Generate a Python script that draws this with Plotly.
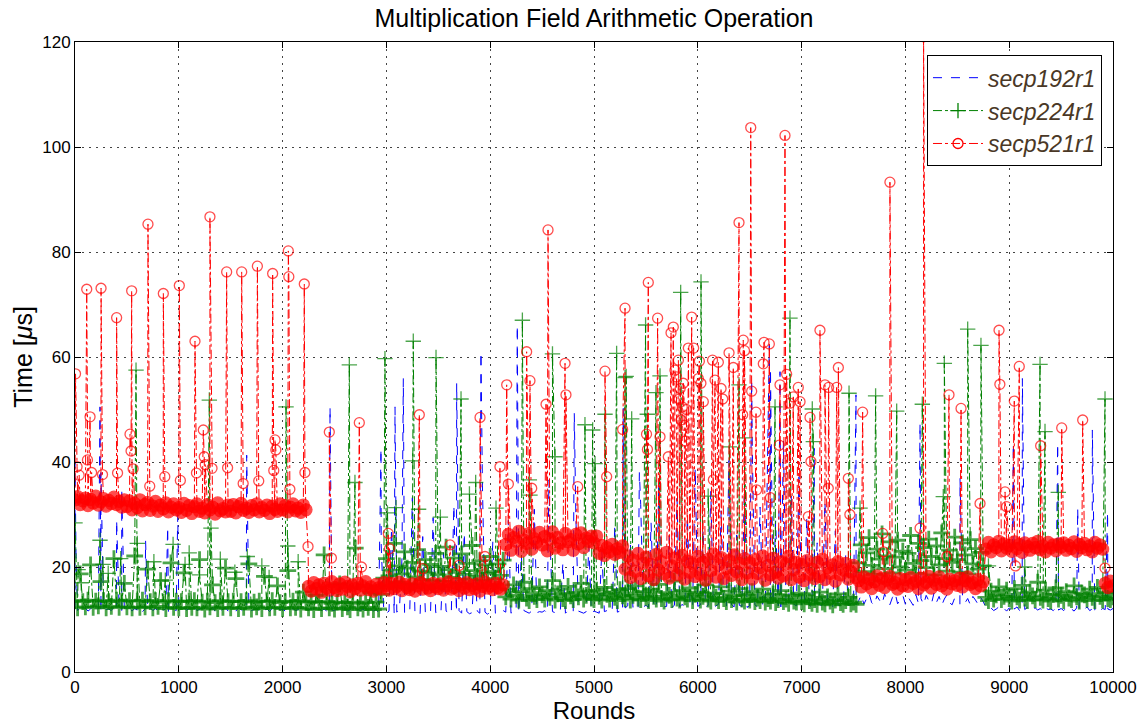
import plotly.graph_objects as go

# Rounds are sampled every 25 iterations for the steady-state band;
# isolated outliers are listed separately at their own round index.
ROUND_STEP = 25
rounds = list(range(0, 10001, ROUND_STEP))

# secp192r1 timings (us), one value per sampled round (20 per row = 500 rounds)
secp192_base = [
    12.1, 11.7, 12.4, 11.9, 12.2, 11.6, 12.0, 12.5, 11.8, 12.1, 11.5, 12.3, 11.9, 12.0, 11.7, 12.4, 11.8, 12.2, 11.6, 12.0,
    11.9, 12.3, 11.6, 12.1, 11.8, 12.4, 11.5, 12.0, 11.9, 12.2, 11.7, 12.1, 11.6, 12.3, 11.8, 12.0, 11.5, 12.2, 11.9, 11.7,
    12.0, 11.6, 12.2, 11.8, 12.1, 11.5, 12.3, 11.7, 11.9, 12.2, 11.6, 12.0, 11.8, 12.3, 11.5, 12.1, 11.7, 11.9, 12.2, 11.6,
    11.8, 12.1, 11.6, 12.2, 11.9, 11.5, 12.0, 12.3, 11.7, 11.9, 12.1, 11.6, 12.2, 11.8, 12.0, 11.5, 12.1, 11.7, 12.3, 11.8,
    12.0, 11.6, 12.2, 11.8, 12.1, 11.7, 11.9, 12.3, 11.6, 12.0, 11.8, 12.1, 11.5, 11.9, 12.2, 11.7, 12.0, 11.6, 12.1, 11.8,
    11.7, 12.0, 11.5, 11.9, 12.1, 11.6, 11.8, 12.2, 11.5, 11.9, 11.7, 12.0, 11.4, 11.8, 12.1, 11.6, 11.9, 11.3, 24.0, 11.5,
    11.2, 11.6, 27.5, 11.1, 11.4, 11.8, 21.6, 11.3, 11.0, 11.5, 33.2, 11.2, 11.6, 11.1, 25.8, 11.4, 11.7, 11.2, 29.4, 11.3,
    11.5, 11.1, 22.7, 11.6, 11.3, 11.0, 31.8, 11.4, 11.7, 11.2, 26.5, 11.5, 11.1, 11.3, 20.9, 11.6, 11.2, 35.6, 11.4, 11.0,
    11.5, 24.8, 11.2, 11.6, 11.3, 11.7, 11.4, 28.9, 11.2, 11.6, 11.5, 11.3, 22.4, 11.7, 11.4, 11.2, 11.6, 31.0, 11.3, 11.5,
    11.4, 11.7, 11.2, 26.3, 11.5, 11.3, 11.6, 11.4, 20.8, 11.2, 11.7, 11.5, 11.3, 29.7, 11.6, 11.4, 11.2, 11.5, 24.1, 11.3,
    11.6, 11.4, 11.2, 23.3, 11.5, 11.7, 11.3, 11.5, 27.8, 11.4, 11.6, 11.3, 12.2, 12.6, 24.7, 12.3, 12.8, 12.1, 31.9, 12.4,
    12.7, 12.3, 28.4, 12.6, 12.2, 36.5, 12.8, 12.4, 12.5, 25.9, 12.3, 12.7, 33.1, 12.4, 12.9, 12.2, 29.6, 12.6, 12.3, 38.8,
    12.5, 12.8, 27.2, 12.4, 12.7, 34.4, 12.3, 12.6, 12.9, 30.7, 12.5, 12.2, 40.3, 12.8, 12.4, 26.1, 12.7, 12.5, 35.9, 12.3,
    12.6, 42.5, 12.8, 12.4, 31.4, 12.9, 12.5, 46.2, 12.7, 13.0, 28.8, 12.6, 12.4, 44.0, 12.8, 12.5, 33.7, 12.9, 12.6, 37.2,
    12.8, 12.5, 29.3, 12.7, 12.4, 12.9, 24.6, 12.6, 12.8, 32.5, 12.5, 12.7, 12.4, 26.9, 12.8, 12.6, 12.5, 22.3, 12.7, 12.9,
    12.6, 12.8, 13.6, 14.7, 12.9, 14.1, 15.0, 13.2, 12.7, 14.5, 13.8, 12.9, 14.9, 13.4, 12.8, 14.2, 15.1, 13.0, 13.7, 14.6,
    12.9, 14.3, 13.5, 12.7, 14.8, 13.1, 14.0, 12.8, 14.6, 13.6, 12.9, 15.0, 13.3, 14.4, 12.7, 13.9, 14.7, 13.2, 12.8, 14.1,
    13.5, 12.9, 14.6, 13.2, 14.0, 12.8, 14.4, 13.7, 12.9, 14.2, 13.4, 12.3, 11.9, 12.2, 11.7, 12.0, 12.4, 11.8, 12.1, 11.6,
    12.2, 11.8, 12.0, 12.4, 11.7, 12.1, 11.9, 12.3, 11.6, 12.0, 12.2, 11.8, 12.1, 11.5, 12.3, 11.9, 12.0, 11.7, 12.2, 11.8,
    12.1, 11.7, 12.3, 11.9, 12.0, 11.6, 12.2, 11.8, 12.1, 11.9, 12.4, 11.7, 12.0, 11.8, 12.2, 11.6, 12.1, 11.9, 12.0, 11.8,
    12.1,
]
secp192_spike_rounds = [0, 10, 241, 250, 401, 450, 680, 893, 990, 1654,
                        2457, 2948, 3083, 3163, 3677, 3911, 4261, 4566, 4810, 5282,
                        5437, 6519, 6689, 6700, 6792, 7122, 7524, 8141, 8526, 9040,
                        9127, 9467, 9660, 9801, 9948]
secp192_spike_times = [40.0, 22.0, 50.5, 38.0, 29.0, 35.0, 25.0, 27.7, 30.0, 41.3,
                       50.5, 42.6, 50.5, 55.9, 55.0, 61.0, 66.1, 36.6, 49.3, 50.2,
                       38.0, 55.7, 62.3, 57.8, 57.2, 42.6, 52.8, 47.4, 36.9, 43.6,
                       55.9, 43.6, 31.2, 46.1, 30.5]

# secp224r1 timings (us)
secp224_base = [
    13.6, 12.2, 18.7, 13.4, 12.4, 13.7, 20.4, 12.3, 13.5, 12.6, 17.2, 13.6, 12.2, 13.4, 12.5, 21.6, 13.7, 12.3, 13.5, 16.9,
    12.4, 13.6, 12.2, 22.1, 13.5, 12.3, 13.7, 12.4, 19.6, 13.4, 12.2, 13.6, 12.5, 17.4, 13.3, 12.1, 13.6, 20.8, 12.3, 13.5,
    12.2, 13.4, 18.9, 12.1, 13.5, 12.3, 13.6, 12.2, 21.4, 13.3, 12.0, 13.5, 12.4, 16.6, 13.2, 12.1, 13.6, 12.3, 19.8, 13.4,
    12.2, 13.5, 17.8, 12.1, 13.4, 12.3, 13.6, 20.6, 12.0, 13.3, 12.4, 13.5, 12.1, 18.2, 13.4, 12.2, 13.6, 12.3, 16.4, 13.2,
    12.1, 13.4, 19.3, 12.2, 13.5, 12.3, 13.6, 12.0, 15.2, 13.3, 12.2, 13.4, 11.9, 14.6, 13.3, 12.1, 22.3, 13.4, 12.2, 13.1,
    12.0, 13.3, 16.8, 12.1, 13.2, 12.4, 11.9, 13.3, 23.6, 12.2, 13.1, 12.0, 13.2, 12.3, 15.1, 11.9, 13.3, 12.0, 14.8, 17.9,
    21.6, 18.3, 19.4, 24.5, 17.1, 20.2, 18.7, 22.9, 19.8, 16.8, 20.9, 18.1, 23.3, 19.2, 17.6, 21.4, 18.9, 20.5, 17.4, 22.6,
    18.5, 20.1, 17.3, 23.8, 19.5, 18.0, 21.7, 19.0, 16.9, 22.5, 18.6, 20.7, 17.7, 24.1, 19.3, 18.2, 21.2, 17.5, 20.4, 18.8,
    22.0, 19.1, 17.8, 20.6, 18.4, 21.3, 14.3, 15.8, 13.9, 16.6, 14.6, 13.7, 15.3, 17.1, 14.1, 13.6, 15.9, 14.4, 13.8, 16.2,
    14.7, 13.9, 15.5, 14.2, 17.4, 13.7, 14.9, 15.8, 14.0, 13.6, 16.3, 14.5, 13.8, 15.1, 14.3, 16.9, 13.9, 14.6, 15.4, 14.1,
    13.8, 15.6, 14.4, 13.7, 16.1, 14.8, 13.9, 15.2, 14.2, 13.6, 15.7, 14.5, 14.0, 15.9, 13.7, 14.6, 16.4, 14.1, 13.8, 15.3,
    14.2, 13.6, 15.8, 14.4, 13.9, 16.7, 14.0, 13.5, 15.1, 14.6, 13.8, 17.3, 14.1, 13.7, 15.5, 14.3, 13.9, 16.0, 13.6, 14.8,
    15.2, 13.7, 14.4, 16.6, 13.9, 13.5, 15.0, 14.2, 13.6, 16.2, 14.0, 13.4, 15.4, 13.8, 14.5, 13.3, 15.9, 13.9, 13.5, 14.7,
    13.7, 15.3, 13.4, 14.1, 13.6, 15.8, 13.3, 14.0, 13.5, 14.9, 13.2, 13.8, 15.5, 13.4, 13.9, 13.1, 14.6, 13.5, 13.3, 15.0,
    13.4, 13.0, 14.7, 13.6, 13.1, 13.8, 12.9, 15.2, 13.3, 13.0, 14.3, 13.5, 12.8, 13.7, 14.9, 13.2, 12.9, 13.6, 14.2, 13.0,
    13.3, 12.9, 20.8, 24.2, 19.1, 22.7, 25.6, 20.3, 18.6, 23.4, 21.5, 26.3, 19.7, 22.1, 24.8, 18.9, 21.9, 25.1, 20.0, 23.0,
    19.4, 22.6, 26.0, 20.7, 18.8, 24.5, 21.2, 23.7, 19.9, 25.3, 22.0, 18.5, 24.0, 20.4, 26.5, 21.6, 19.2, 23.2, 20.9, 25.7,
    21.4, 19.0, 24.6, 22.3, 18.7, 25.2, 20.6, 23.5, 19.6, 22.8, 20.2, 14.2, 13.6, 15.4, 13.9, 14.7, 16.2, 13.8, 14.4, 15.6,
    14.0, 13.5, 15.9, 14.3, 13.7, 16.5, 14.1, 13.6, 15.2, 14.5, 13.8, 17.1, 14.2, 13.7, 15.6, 14.0, 13.5, 14.8, 16.0, 13.9,
    14.6, 13.6, 15.3, 14.1, 13.8, 16.4, 14.3, 13.5, 15.0, 14.7, 13.9, 15.8, 14.2, 13.6, 16.1, 14.4, 13.7, 15.1, 14.0, 13.8,
    14.3,
]
secp224_spike_rounds = [0, 30, 60, 241, 270, 320, 440, 588, 600, 760,
                        870, 945, 1060, 1100, 1200, 1294, 1310, 1400, 1540, 1660,
                        1800, 1870, 2033, 2050, 2150, 2643, 2697, 2986, 3010, 3093,
                        3253, 3259, 3310, 3478, 3520, 3719, 3800, 3860, 4056, 4310,
                        4377, 4383, 4600, 4624, 4913, 4987, 5010, 5106, 5218, 5299,
                        5310, 5363, 5497, 5513, 5597, 5636, 5835, 6031, 6100, 6304,
                        6397, 6450, 6744, 6888, 7103, 7113, 7457, 7563, 7713, 7916,
                        8163, 8365, 8375, 8600, 8728, 8800, 9150, 9297, 9345, 9473,
                        9923]
secp224_spike_times = [28.4, 19.5, 17.0, 25.1, 20.5, 18.8, 21.6, 57.5, 24.5, 21.0,
                       17.5, 24.3, 20.5, 22.7, 18.5, 51.8, 27.4, 21.5, 19.0, 22.0,
                       20.2, 18.0, 50.5, 24.0, 21.0, 58.5, 36.1, 59.7, 30.3, 31.3,
                       40.2, 63.0, 31.0, 59.9, 29.5, 52.0, 33.9, 36.1, 31.2, 67.0,
                       36.6, 33.7, 60.6, 41.0, 47.1, 46.1, 39.7, 49.1, 60.7, 56.1,
                       56.3, 48.2, 66.1, 49.1, 53.2, 56.4, 72.3, 74.3, 33.5, 42.9,
                       54.7, 44.6, 50.5, 67.4, 50.1, 43.9, 53.1, 31.2, 52.6, 49.7,
                       51.0, 33.4, 58.8, 65.3, 62.2, 20.2, 20.0, 58.6, 45.8, 34.2,
                       52.0]

# secp521r1 timings (us)
secp521_base = [
    32.8, 33.4, 31.9, 32.6, 33.1, 31.7, 32.9, 32.2, 33.5, 31.8, 32.4, 33.0, 31.6, 32.7, 32.1, 33.3, 31.9, 32.5, 31.4, 32.8,
    31.5, 32.6, 30.9, 32.1, 31.3, 32.8, 30.7, 31.9, 32.3, 30.8, 31.6, 32.5, 30.6, 31.8, 31.1, 32.2, 30.5, 31.4, 32.0, 30.9,
    31.3, 30.4, 32.1, 30.8, 31.7, 30.2, 31.5, 32.0, 30.6, 31.2, 30.3, 31.9, 30.9, 31.4, 30.1, 32.2, 30.7, 31.1, 30.5, 31.8,
    30.6, 31.9, 30.3, 31.5, 32.1, 30.8, 31.2, 30.4, 31.7, 30.9, 32.0, 30.5, 31.3, 30.8, 31.8, 30.2, 31.6, 31.0, 30.6, 32.0,
    30.9, 31.7, 30.5, 31.4, 32.0, 30.7, 31.2, 30.4, 31.8, 30.9, 16.3, 15.4, 17.0, 15.9, 16.6, 15.2, 16.9, 16.0, 15.6, 17.2,
    16.1, 15.5, 16.8, 15.8, 17.1, 16.3, 15.3, 16.6, 15.9, 16.9, 15.6, 16.4, 17.2, 15.7, 16.2, 15.4, 16.7, 16.0, 15.8, 17.0,
    16.5, 15.6, 16.9, 15.9, 16.3, 17.1, 15.5, 16.7, 16.1, 15.7, 16.8, 15.4, 16.4, 17.0, 15.8, 16.6, 16.0, 15.5, 16.9, 16.2,
    15.9, 16.8, 15.6, 16.4, 17.2, 15.8, 16.1, 16.9, 15.5, 16.6, 16.0, 17.0, 15.7, 16.5, 15.9, 16.8, 15.4, 16.3, 17.1, 16.0,
    16.4, 15.7, 16.9, 16.1, 15.8, 16.6, 24.3, 26.2, 23.2, 25.6, 24.9, 26.8, 23.0, 25.1, 24.5, 26.4, 23.4, 25.4, 24.7, 26.6,
    24.2, 25.8, 23.1, 25.3, 26.7, 23.6, 25.6, 24.6, 23.3, 26.4, 24.8, 25.2, 23.2, 26.2, 24.4, 26.5, 23.7, 25.5, 24.9, 25.9,
    24.6, 25.9, 22.6, 24.1, 22.2, 23.7, 22.9, 24.3, 22.4, 23.5, 22.8, 24.0, 19.6, 22.1, 18.0, 21.3, 19.2, 22.6, 17.8, 20.7,
    21.9, 18.3, 20.5, 17.6, 22.4, 19.4, 21.0, 18.7, 22.8, 17.9, 20.2, 21.7, 18.5, 19.8, 22.2, 17.7, 21.1, 19.0, 20.6, 18.2,
    22.0, 18.6, 20.9, 17.5, 21.5, 19.3, 22.5, 18.1, 20.4, 21.8, 17.8, 19.7, 21.2, 18.4, 22.3, 19.1, 20.7, 17.6, 21.6, 18.9,
    20.8, 17.7, 21.4, 18.8, 19.9, 22.1, 17.5, 20.3, 18.5, 21.7, 19.0, 17.9, 21.0, 18.3, 20.6, 22.0, 17.6, 19.5, 20.9, 18.1,
    20.5, 17.4, 21.2, 18.6, 19.6, 17.8, 20.9, 18.2, 21.5, 17.6, 19.9, 18.8, 20.4, 17.3, 21.0, 18.5, 19.4, 20.7, 17.7, 19.1,
    20.3, 18.0, 17.4, 16.2, 18.1, 16.8, 17.7, 15.9, 17.2, 18.3, 16.5, 17.9, 16.1, 17.5, 18.2, 16.7, 17.0, 15.8, 17.8, 16.4,
    17.6, 16.3, 18.0, 16.9, 17.3, 15.9, 17.9, 16.6, 17.1, 18.2, 16.0, 17.5, 16.7, 18.1, 16.4, 17.2, 15.8, 17.7, 16.8, 17.4,
    16.5, 17.9, 16.2, 17.4, 18.1, 16.7, 17.0, 15.9, 17.6, 16.4, 17.2, 23.4, 24.7, 22.9, 24.2, 23.7, 24.9, 23.1, 24.4, 23.6,
    24.1, 23.0, 24.8, 23.5, 24.3, 22.8, 24.6, 23.9, 23.2, 24.5, 23.7, 24.9, 23.3, 24.0, 22.9, 24.7, 23.6, 24.2, 23.1, 24.4,
    23.8, 24.6, 23.2, 24.1, 23.5, 24.8, 23.0, 24.3, 23.7, 24.5, 23.3, 24.0, 22.9, 24.7, 23.6, 24.2, 23.4, 16.9, 16.1, 17.3,
    16.4,
]
secp521_spike_rounds = [5, 20, 40, 113, 120, 145, 160, 251, 265, 401,
                        410, 530, 540, 546, 560, 703, 720, 851, 865, 1005,
                        1015, 1156, 1170, 1236, 1245, 1255, 1300, 1320, 1461, 1470,
                        1606, 1620, 1757, 1770, 1904, 1915, 1927, 1935, 2055, 2060,
                        2070, 2209, 2215, 2245, 2450, 2470, 2739, 2760, 3018, 3030,
                        3317, 3350, 3613, 3700, 3902, 3950, 4094, 4159, 4175, 4351,
                        4383, 4400, 4538, 4557, 4721, 4730, 4843, 5106, 5122, 5276,
                        5299, 5506, 5515, 5523, 5613, 5636, 5716, 5742, 5764, 5780,
                        5795, 5813, 5820, 5830, 5840, 5850, 5860, 5870, 5880, 5890,
                        5909, 5941, 5960, 6005, 6015, 6030, 6053, 6142, 6150, 6166,
                        6198, 6224, 6240, 6301, 6342, 6397, 6432, 6438, 6450, 6510,
                        6519, 6561, 6567, 6631, 6638, 6689, 6700, 6785, 6792, 6840,
                        6856, 6888, 6920, 6968, 6985, 7065, 7081, 7090, 7177, 7225,
                        7257, 7260, 7338, 7354, 7450, 7465, 7588, 7781, 7790, 7851,
                        8141, 8175, 8400, 8420, 8536, 8719, 8902, 8910, 8960, 8975,
                        9049, 9060, 9097, 9303, 9506, 9708, 9923]
secp521_spike_times = [56.8, 39.1, 37.5, 72.9, 40.4, 48.6, 38.0, 73.1, 37.6, 67.5,
                       37.9, 45.3, 42.1, 72.6, 38.7, 85.3, 35.4, 72.1, 37.2, 73.6,
                       36.5, 63.0, 37.9, 46.1, 41.0, 39.5, 86.7, 38.8, 76.2, 38.9,
                       76.2, 35.9, 77.3, 36.4, 75.9, 38.4, 44.2, 42.3, 80.2, 75.3,
                       34.8, 73.9, 38.0, 23.9, 45.7, 21.7, 47.5, 20.0, 26.4, 23.5,
                       49.0, 19.7, 24.2, 20.3, 48.5, 22.0, 39.1, 54.7, 35.8, 61.0,
                       55.5, 35.0, 51.0, 84.2, 58.8, 52.8, 35.3, 57.3, 37.2, 46.2,
                       69.3, 45.3, 42.4, 74.2, 67.4, 44.8, 41.0, 64.6, 65.7, 57.5,
                       56.2, 59.4, 52.0, 54.0, 48.0, 50.5, 55.0, 47.0, 44.0, 50.0,
                       61.7, 67.6, 61.7, 55.9, 59.2, 55.0, 51.5, 59.4, 36.6, 55.6,
                       59.0, 54.0, 52.0, 60.8, 58.0, 85.6, 49.0, 63.2, 61.2, 103.7,
                       53.5, 49.5, 34.7, 58.7, 62.8, 62.5, 33.2, 43.2, 54.7, 102.2,
                       56.7, 51.2, 52.4, 54.2, 51.5, 29.6, 48.5, 40.1, 65.1, 54.7,
                       35.0, 54.2, 54.2, 58.0, 36.9, 30.0, 49.5, 26.4, 22.9, 93.3,
                       27.4, 121.0, 22.0, 52.8, 50.2, 32.1, 65.1, 54.8, 34.3, 31.5,
                       51.6, 20.2, 58.2, 43.1, 46.5, 48.0, 19.8]


def merged(base, spike_rounds, spike_times):
    """Interleave the sampled band with the outliers in round order.

    Returns rounds, times and a flag telling whether each point is an outlier.
    """
    pts = [(r, t, False) for r, t in zip(rounds, base)]
    pts += [(r, t, True) for r, t in zip(spike_rounds, spike_times)]
    pts.sort(key=lambda p: p[0])
    return [p[0] for p in pts], [p[1] for p in pts], [p[2] for p in pts]


FONT = "Liberation Sans, Helvetica, Arial, sans-serif"
BLUE, GREEN, RED = "rgb(0,0,255)", "rgb(0,128,0)", "rgb(255,0,0)"

fig = go.Figure()

x, y, _ = merged(secp192_base, secp192_spike_rounds, secp192_spike_times)
fig.add_trace(go.Scatter(
    x=x, y=y, mode="lines", name="secp192r1", showlegend=False,
    line=dict(color=BLUE, width=1, dash="dash"),
))

# The steady band holds thousands of overlapping markers, so its markers
# are drawn heavier than those of the isolated outliers.
x, y, outlier = merged(secp224_base, secp224_spike_rounds, secp224_spike_times)
fig.add_trace(go.Scatter(
    x=x, y=y, mode="lines+markers", name="secp224r1", showlegend=False,
    line=dict(color=GREEN, width=1, dash="dashdot"),
    marker=dict(symbol="cross-thin", size=[11 if o else 12 for o in outlier],
                line=dict(color=GREEN, width=[1.3 if o else 2.8 for o in outlier])),
))

x, y, outlier = merged(secp521_base, secp521_spike_rounds, secp521_spike_times)
fig.add_trace(go.Scatter(
    x=x, y=y, mode="lines+markers", name="secp521r1", showlegend=False,
    line=dict(color=RED, width=1, dash="dashdot"),
    marker=dict(symbol=["circle-open" if o else "circle" for o in outlier],
                size=[10 if o else 12 for o in outlier], color=RED,
                line=dict(color=RED, width=1.3)),
))

# Legend entries with the plain line/marker style of each series
legend_styles = [
    ("secp192r1", "lines", dict(color=BLUE, width=1, dash="dash"), None),
    ("secp224r1", "lines+markers", dict(color=GREEN, width=1, dash="dashdot"),
     dict(symbol="cross-thin", size=11, line=dict(color=GREEN, width=1.3))),
    ("secp521r1", "lines+markers", dict(color=RED, width=1, dash="dashdot"),
     dict(symbol="circle-open", size=10, color=RED, line=dict(color=RED, width=1.3))),
]
for name, mode, line, marker in legend_styles:
    fig.add_trace(go.Scatter(x=[None], y=[None], mode=mode, name=name,
                             line=line, marker=marker, showlegend=True))

axis_common = dict(
    showline=True, linecolor="black", linewidth=1, mirror="ticks",
    ticks="inside", ticklen=6, tickcolor="black",
    showgrid=True, gridcolor="#444444", gridwidth=1, griddash="2px,5px",
    zeroline=False, tickformat="d", automargin=False,
    tickfont=dict(family=FONT, size=17, color="black"),
)

fig.update_layout(
    width=1137, height=725,
    margin=dict(l=75, r=24, t=42, b=53, autoexpand=False),
    paper_bgcolor="white", plot_bgcolor="white",
    font=dict(family=FONT, color="black"),
    title=dict(text="Multiplication Field Arithmetic Operation",
               font=dict(family=FONT, size=25, color="black"),
               x=0.5, xref="paper", xanchor="center",
               y=1 - 18 / 725, yref="container", yanchor="middle"),
    xaxis=dict(range=[0, 10000], tick0=0, dtick=1000,
               title=dict(text="Rounds", font=dict(family=FONT, size=24), standoff=2),
               **axis_common),
    yaxis=dict(range=[0, 120], tick0=0, dtick=20,
               title=dict(text="Time [<i>\u03bc</i>s]", font=dict(family=FONT, size=25), standoff=2),
               **axis_common),
    legend=dict(x=0.9894, y=0.979, xanchor="right", yanchor="top",
                bgcolor="white", bordercolor="black", borderwidth=1,
                font=dict(family=FONT, size=23, color="#4a3826", style="italic"),
                itemwidth=50, tracegroupgap=0),
    showlegend=True,
)

fig.write_html("out.html")
